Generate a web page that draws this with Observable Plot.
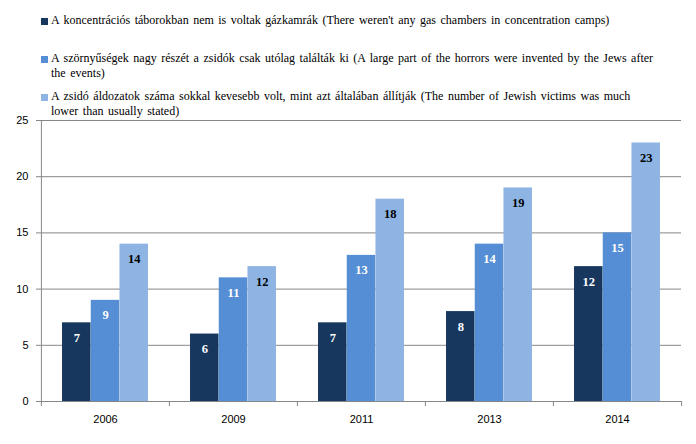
<!DOCTYPE html>
<html>
<head>
<meta charset="utf-8">
<script src="https://cdn.jsdelivr.net/npm/d3@7"></script>
<script src="https://cdn.jsdelivr.net/npm/@observablehq/plot@0.6"></script>
<style>
  body { margin: 0; background: white; }
  #wrap { position: relative; width: 696px; height: 444px; overflow: hidden; }
  #legend { position: absolute; left: 0; top: 0; z-index: 2; font-family: "Liberation Serif", serif; font-size: 12px; color: #000; }
  .item { position: absolute; left: 51px; line-height: 14.5px; white-space: pre; word-spacing: 1.5px; }
  .sw { position: absolute; left: -10px; top: 5px; width: 7px; height: 7px; }
  #chart { position: absolute; left: 0; top: 100px; }
  #chart svg { background: transparent !important; overflow: visible; }
</style>
</head>
<body>
<div id="wrap">
  <div id="legend"></div>
  <div id="chart"></div>
</div>
<script>
const years = ["2006", "2009", "2011", "2013", "2014"];
const seriesNames = [
  "A koncentrációs táborokban nem is voltak gázkamrák (There weren't any gas chambers in concentration camps)",
  "A szörnyűségek nagy részét a zsidók csak utólag találták ki (A large part of the horrors were invented by the Jews after\nthe events)",
  "A zsidó áldozatok száma sokkal kevesebb volt, mint azt általában állítják (The number of Jewish victims was much\nlower than usually stated)"
];
const noGasChambers = [7, 6, 7, 8, 12];
const inventedLater = [9, 11, 13, 14, 15];
const fewerVictims = [14, 12, 18, 19, 23];
const yTicks = [0, 5, 10, 15, 20, 25];

const seriesValues = [noGasChambers, inventedLater, fewerVictims];
const colors = ["#17375E", "#558ED5", "#8EB4E3"];
const labelColors = ["#ffffff", "#ffffff", "#000000"];

// legend
const legend = document.getElementById("legend");
const itemTops = [13, 51, 89];
seriesNames.forEach((name, j) => {
  const div = document.createElement("div");
  div.className = "item";
  div.style.top = itemTops[j] + "px";
  div.textContent = name;
  const sw = document.createElement("span");
  sw.className = "sw";
  sw.style.background = colors[j];
  div.appendChild(sw);
  legend.appendChild(div);
});

const data = years.flatMap((year, i) => seriesValues.map((s, j) => ({year, series: j, value: s[i]})));

const W = 696, H = 344, mL = 40, mR = 15, mT = 20, mB = 43;
const bw = (W - mL - mR) / years.length;
const barW = bw * 0.224;
const outer = (bw - 3 * barW) / 2;
const grid = "#868686";

const barMarks = seriesValues.map((s, j) =>
  Plot.barY(data.filter(d => d.series === j), {
    x: "year", y: "value", fill: colors[j],
    insetLeft: outer + j * barW, insetRight: bw - outer - (j + 1) * barW
  })
);
const textMarks = seriesValues.map((s, j) =>
  Plot.text(data.filter(d => d.series === j), {
    x: "year", y: "value", text: d => String(d.value),
    dx: (j - 1) * barW, dy: 15, fill: labelColors[j],
    fontFamily: "Liberation Serif", fontWeight: "bold", fontSize: 12.5
  })
);

const chart = Plot.plot({
  width: W, height: H,
  marginLeft: mL, marginRight: mR, marginTop: mT, marginBottom: mB,
  style: {fontFamily: "Liberation Sans, sans-serif", fontSize: "11px", color: "#000", background: "transparent", overflow: "visible"},
  x: {domain: years, paddingInner: 0, paddingOuter: 0, label: null, axis: null},
  y: {domain: [0, 25], label: null, axis: null},
  marks: [
    Plot.gridY(yTicks, {stroke: grid, strokeOpacity: 1}),
    Plot.ruleX([years[0]], {dx: -bw / 2, stroke: grid}),
    ...barMarks,
    ...textMarks,
    Plot.axisY(yTicks, {tickSize: 4, tickPadding: 8, stroke: grid, label: null}),
    Plot.axisX(years, {tickSize: 0, tickPadding: 14, label: null}),
    Plot.axisX(years, {tickSize: 5, tickFormat: () => "", dx: -bw / 2, stroke: grid, label: null}),
    Plot.axisX([years[years.length - 1]], {tickSize: 5, tickFormat: () => "", dx: bw / 2, stroke: grid, label: null})
  ]
});
document.getElementById("chart").appendChild(chart);
</script>
</body>
</html>
